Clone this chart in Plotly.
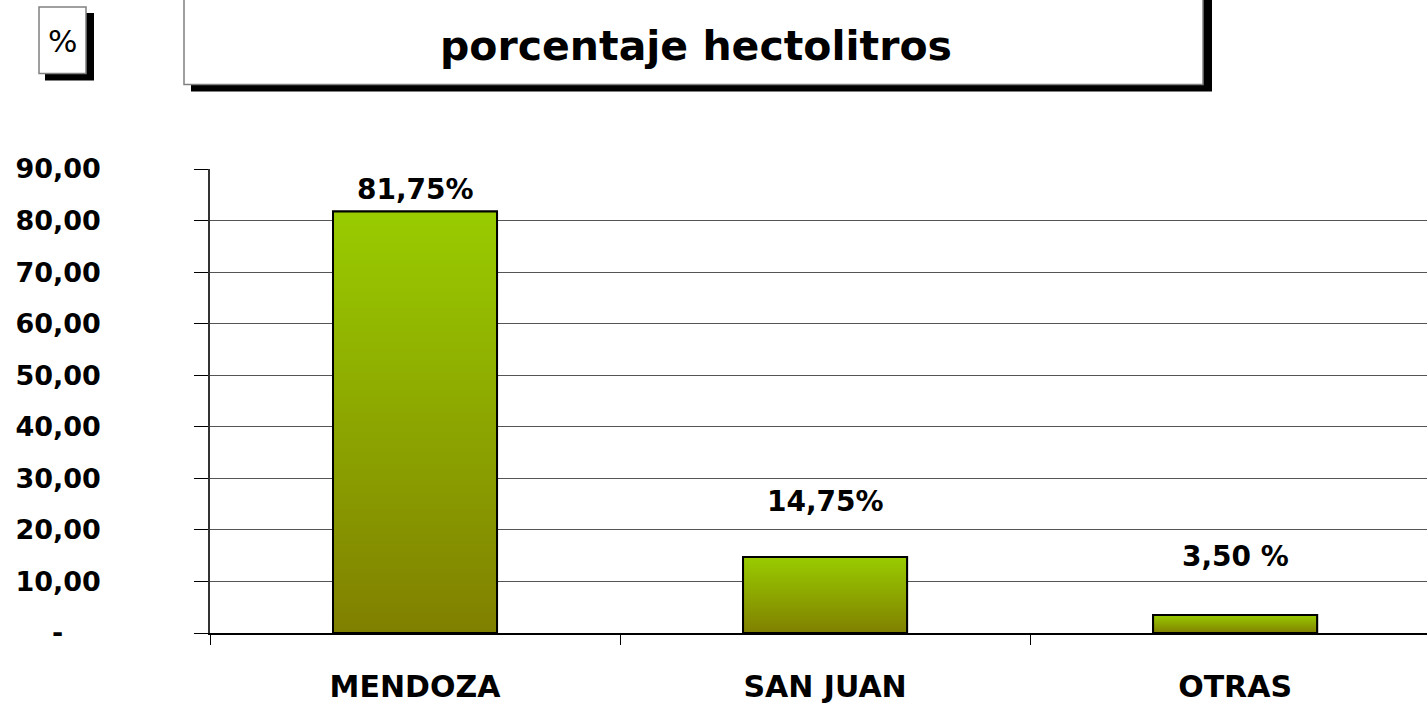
import plotly.graph_objects as go

# ---- data ----
categories = ["MENDOZA", "SAN JUAN", "OTRAS"]
values = [81.75, 14.75, 3.50]
value_labels = ["81,75%", "14,75%", "3,50 %"]
tick_vals = [0, 10, 20, 30, 40, 50, 60, 70, 80, 90]
tick_text = ["-" + "\u00a0" * 4, "10,00", "20,00", "30,00", "40,00", "50,00",
             "60,00", "70,00", "80,00", "90,00"]
title_text = "porcentaje hectolitros"
unit_text = "%"

# ---- layout geometry (pixels) ----
W, H = 1427, 704
L, R, T, B = 210, 0, 169, 68
PW, PH = W - L - R, H - T - B
FONT = "DejaVu Sans"


def px(x):
    return (x - L) / PW


def py(y):
    return (H - B - y) / PH


bar_w = 0.40
label_shift = [18, 51, 54]

fig = go.Figure()

fig.add_trace(go.Bar(
    x=categories, y=values, width=bar_w,
    marker=dict(color="#8ca300", line=dict(color="black", width=2)),
    hoverinfo="skip", showlegend=False,
))

# gradient overlay for each bar (built from the same data)
for i, v in enumerate(values):
    xs = [i - bar_w / 2, i - bar_w / 2, i + bar_w / 2, i + bar_w / 2, i - bar_w / 2]
    ys = [0, v, v, 0, 0]
    fig.add_trace(go.Scatter(
        x=xs, y=ys, xaxis="x2", mode="lines", fill="toself",
        fillgradient=dict(type="vertical",
                          colorscale=[[0, "#808000"], [1, "#99cc00"]]),
        line=dict(color="black", width=2),
        hoverinfo="skip", showlegend=False,
    ))

for i, (v, lab) in enumerate(zip(values, value_labels)):
    fig.add_annotation(
        x=categories[i], y=v, text=lab, showarrow=False,
        yanchor="bottom", yshift=label_shift[i] - 14,
        font=dict(family=FONT, size=28, color="black", weight="bold"),
    )

shapes = []
# title box shadow + box
shapes.append(dict(type="rect", xref="paper", yref="paper",
                   x0=px(191), x1=px(1212), y0=py(91), y1=py(-10),
                   fillcolor="black", line=dict(width=0), layer="above"))
shapes.append(dict(type="rect", xref="paper", yref="paper",
                   x0=px(184), x1=px(1203), y0=py(84), y1=py(-10),
                   fillcolor="white", line=dict(color="#808080", width=1.5), layer="above"))
# % box shadow + box
shapes.append(dict(type="rect", xref="paper", yref="paper",
                   x0=px(45), x1=px(94), y0=py(80), y1=py(12),
                   fillcolor="black", line=dict(width=0), layer="above"))
shapes.append(dict(type="rect", xref="paper", yref="paper",
                   x0=px(39), x1=px(86), y0=py(73), y1=py(6),
                   fillcolor="white", line=dict(color="#808080", width=1.5), layer="above"))
fig.update_layout(shapes=shapes)

fig.add_annotation(xref="paper", yref="paper", x=px(696), y=py(45),
                   xanchor="center", yanchor="middle",
                   text=title_text, showarrow=False,
                   font=dict(family=FONT, size=41, color="black", weight="bold"))
fig.add_annotation(xref="paper", yref="paper", x=px(62), y=py(40),
                   xanchor="center", yanchor="middle",
                   text=unit_text, showarrow=False,
                   font=dict(family=FONT, size=31, color="black"))

fig.update_layout(
    width=W, height=H,
    margin=dict(l=L, r=R, t=T, b=B, pad=0),
    paper_bgcolor="white", plot_bgcolor="white",
    bargap=0.6,
    xaxis=dict(
        type="category", range=[-0.5, 2.468], tickson="boundaries",
        ticks="outside", ticklen=10, tickwidth=1, tickcolor="black",
        showgrid=False, showline=True, linecolor="black", linewidth=2,
        tickfont=dict(family=FONT, size=30, color="black", weight="bold"),
        ticklabelstandoff=26, zeroline=False,
    ),
    xaxis2=dict(overlaying="x", range=[-0.5, 2.468], visible=False),
    yaxis=dict(
        range=[0, 90], tickvals=tick_vals, ticktext=tick_text,
        ticks="outside", ticklen=14, tickwidth=1, tickcolor="black",
        showgrid=True, gridcolor="#555555", gridwidth=1,
        showline=True, linecolor="#333333", linewidth=1.5,
        tickfont=dict(family=FONT, size=27, color="black", weight="bold"),
        ticklabelstandoff=88, zeroline=False,
    ),
)

fig.write_html(
    "out.html",
    config={"displayModeBar": False},
    post_script="document.body.style.margin='0';document.body.style.overflow='hidden';",
)
